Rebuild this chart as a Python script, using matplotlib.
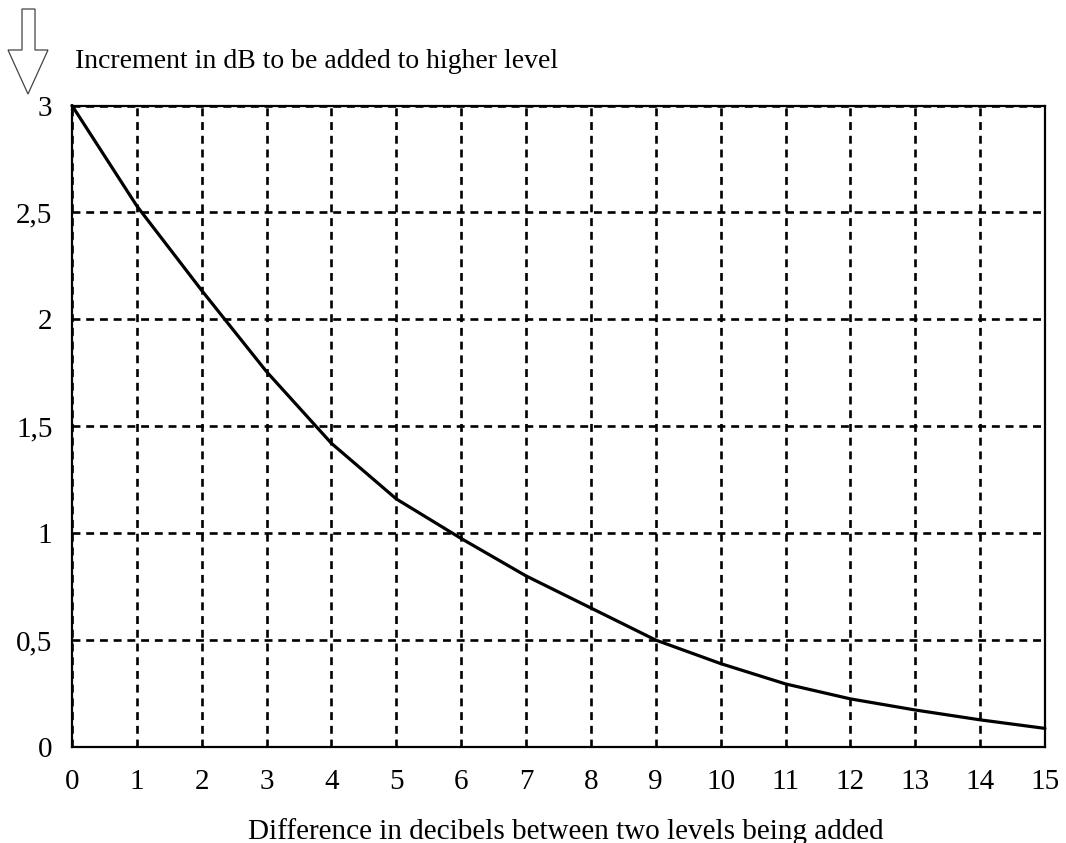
import matplotlib
matplotlib.use("Agg")
import matplotlib.pyplot as plt
from matplotlib.patches import Polygon

# Data
difference_db = [0, 1, 2, 3, 4, 5, 6, 7, 8, 9, 10, 11, 12, 13, 14, 15]
increment_db = [3.0, 2.53, 2.135, 1.755, 1.42, 1.16, 0.975, 0.80, 0.65, 0.50,
                0.39, 0.295, 0.225, 0.173, 0.127, 0.087]
x_ticks = list(range(16))
y_ticks = [0, 0.5, 1, 1.5, 2, 2.5, 3]
y_tick_labels = ["0", "0,5", "1", "1,5", "2", "2,5", "3"]
title_text = "Increment in dB to be added to higher level"
xlabel_text = "Difference in decibels between two levels being added"

plt.rcParams['font.family'] = ['Liberation Serif', 'DejaVu Serif']

W, H = 1066, 843
fig = plt.figure(figsize=(W / 100, H / 100), dpi=100)
fig.patch.set_facecolor('white')

def fx(px):
    return px / W

def fy(py):
    return 1 - py / H

ax = fig.add_axes([fx(72), fy(747), (1045 - 72) / W, (747 - 105.5) / H])
ax.plot(difference_db, increment_db, color='black', lw=2.3, solid_joinstyle='round',
        solid_capstyle='round', zorder=3, clip_on=False)
ax.set_xlim(0, 15)
ax.set_ylim(0, 3)
ax.set_xticks(x_ticks)
ax.set_xticklabels([str(t) for t in x_ticks])
ax.set_yticks(y_ticks)
ax.set_yticklabels(y_tick_labels)
ax.tick_params(axis='both', length=0, labelsize=21, colors='black')
ax.tick_params(axis='x', pad=16)
ax.tick_params(axis='y', pad=14)
ax.grid(True, color='black', linestyle=(0, (3.0, 2.2)), lw=1.9)
ax.set_axisbelow(True)
for s in ax.spines.values():
    s.set_linewidth(1.6)
    s.set_color('black')
    s.set_zorder(4)

# Hollow downward arrow at top-left
arrow_px = [(22, 9), (35, 9), (35, 50), (48, 50), (28, 94), (8, 50), (22, 50)]
arrow = Polygon([(fx(x), fy(y)) for x, y in arrow_px], closed=True,
                facecolor='white', edgecolor='#444444', lw=0.9,
                transform=fig.transFigure)
fig.patches.append(arrow)

fig.text(fx(75), fy(68), title_text, fontsize=20, va='baseline', ha='left')
fig.text(fx(566), fy(839), xlabel_text, fontsize=21, va='baseline', ha='center')

fig.savefig("out.png", dpi=100, facecolor='white')
